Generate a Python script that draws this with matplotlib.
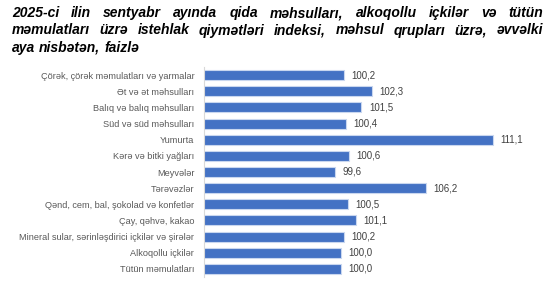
import numpy as np
import matplotlib.pyplot as plt

categories = ["Çörək, çörək məmulatları və yarmalar", "Ət və ət məhsulları",
              "Balıq və balıq məhsulları", "Süd və süd məhsulları", "Yumurta",
              "Kərə və bitki yağları", "Meyvələr", "Tərəvəzlər",
              "Qənd, cem, bal, şokolad və konfetlər", "Çay, qəhvə, kakao",
              "Mineral sular, sərinləşdirici içkilər və şirələr",
              "Alkoqollu içkilər", "Tütün məmulatları"]
values = [100.2, 102.3, 101.5, 100.4, 111.1, 100.6, 99.6, 106.2,
          100.5, 101.1, 100.2, 100.0, 100.0]
title_lines = ["2025-ci ilin sentyabr ayında qida məhsulları, alkoqollu içkilər və tütün",
               "məmulatları üzrə istehlak qiymətləri indeksi, məhsul qrupları üzrə, əvvəlki",
               "aya nisbətən, faizlə"]

plt.rcParams['font.family'] = ['Liberation Sans', 'Roboto', 'DejaVu Sans']

W, H = 554, 298
fig = plt.figure(figsize=(W/100, H/100), dpi=100)
ax = fig.add_axes([204/W, 1-277/H, (546-204)/W, (277-67)/H])

y = np.arange(len(categories))
ax.barh(y, values, height=0.62, color='#4472C4', edgecolor='#C9D7EF', linewidth=0.8)
ax.set_xlim(90, 115)
ax.set_ylim(len(categories)-0.5, -0.5)
ax.set_yticks(y)
ax.set_yticklabels(categories, fontsize=6.6, color='#595959')
ax.tick_params(axis='y', length=0, pad=7)
ax.set_xticks([])
for s in ['top', 'right', 'bottom']:
    ax.spines[s].set_visible(False)
ax.spines['left'].set_color('#D9D9D9')
ax.spines['left'].set_linewidth(0.8)

for yi, v in zip(y, values):
    ax.text(v + 0.55, yi, ('%.1f' % v).replace('.', ','), va='center', ha='left',
            fontsize=7, color='#404040')

# title, justified on the first two lines
renderer = fig.canvas.get_renderer()
x0, x1 = 12, 543
tkw = dict(fontweight='bold', fontstyle='italic', va='baseline', ha='left', color='black')

def ext(s, size):
    t = fig.text(0, 0.5, s, fontsize=size, **tkw)
    e = t.get_window_extent(renderer)
    t.remove()
    return e

# size chosen so the words of line 1 take ~425 px, gaps ~10 px like the picture
natural = sum(ext(w, 10).width for w in title_lines[0].split(' '))
size = 10 * 425 / natural

for i, line in enumerate(title_lines):
    ypos = 1 - (17 + 17.5*i)/H
    words = line.split(' ')
    widths = [ext(w, size).width for w in words]
    if i == len(title_lines) - 1:
        gap = size * 0.28 * 100 / 72
    else:
        gap = (x1 - x0 - sum(widths)) / (len(words) - 1)
    xp = x0
    for w, wd in zip(words, widths):
        # fallback glyphs shift the baseline; line the word up with a plain-latin twin
        dy = ext(w.replace('ə', 'e'), size).y0 - ext(w, size).y0
        fig.text(xp/W, ypos + dy/H, w, fontsize=size, **tkw)
        xp += wd + gap

fig.savefig('out.png', dpi=100)
